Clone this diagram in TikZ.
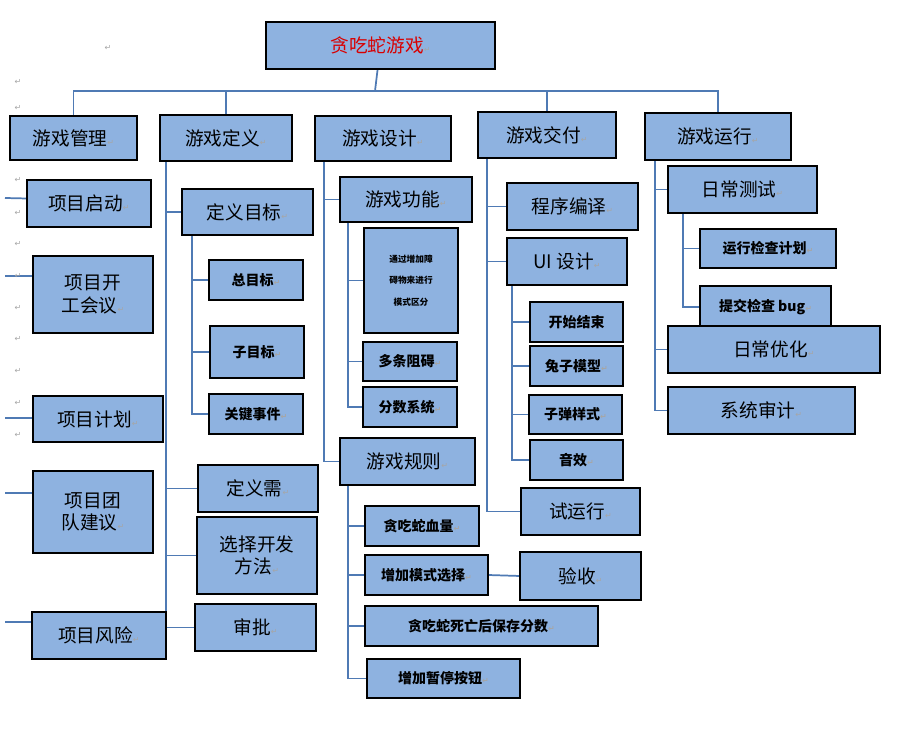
\documentclass[tikz,border=0pt]{standalone}
\usepackage{fontspec}
\usetikzlibrary{backgrounds}
\setmainfont{Noto Sans CJK SC}
\newfontfamily\djv{DejaVu Sans}
\definecolor{bfill}{RGB}{142,178,224}
\definecolor{lcol}{RGB}{79,122,180}
\newcommand\retm{{\djv\color{gray!70}\fontsize{6}{6}\selectfont ↵}}
\newcommand\bx[7][]{%
 \pgfmathsetmacro\bw{(#5-#3)*0.75}\pgfmathsetmacro\bh{(#6-#4)*0.75}%
 \node[box,#1,minimum width=\bw pt,minimum height=\bh pt] (#2) at ({(#3+#5)/2},{(#4+#6)/2}) {#7};}
\tikzset{
 box/.style={draw=black,line width=1.1pt,fill=bfill,inner sep=1pt,outer sep=0pt,align=center,font=\fontsize{14}{17}\selectfont},
 mid/.style={font=\bfseries\fontsize{10.5}{13}\selectfont},
 tiny/.style={font=\bfseries\fontsize{6.5}{16}\selectfont},
 ln/.style={draw=lcol,line width=1.3pt},
 pm/.style={font=\djv\fontsize{6}{6}\selectfont,text=gray!70}
}
\begin{document}
\begin{tikzpicture}[x=0.75pt,y=-0.75pt]
\useasboundingbox (0,0) rectangle (922,737);
% root and level 1
\bx{root}{266}{22}{495}{69}{\textcolor{red!85!black}{贪吃蛇游戏}\retm}
\bx{gl}{10}{116}{137}{160}{游戏管理\retm}
\bx{gd}{160}{115}{292}{161}{游戏定义\retm}
\bx{gs}{315}{116}{451}{161}{游戏设计\retm}
\bx{gj}{478}{112}{616}{158}{游戏交付\retm}
\bx{gy}{645}{113}{791}{160}{游戏运行\retm}
% management
\bx{m1}{27}{180}{151}{227}{项目启动\retm}
\bx{m2}{33}{256}{153}{333}{项目开\\工会议\retm}
\bx{m3}{33}{396}{163}{442}{项目计划\retm}
\bx{m4}{33}{471}{153}{553}{项目团\\队建议\retm}
\bx{m5}{32}{612}{166}{659}{项目风险\retm}
% definition
\bx{d1}{182}{189}{313}{235}{定义目标\retm}
\bx[mid]{d11}{209}{260}{303}{300}{总目标\retm}
\bx[mid]{d12}{210}{326}{304}{378}{子目标\retm}
\bx[mid]{d13}{209}{394}{303}{434}{关键事件\retm}
\bx{d2}{198}{465}{318}{512}{定义需\retm}
\bx{d3}{197}{517}{317}{594}{选择开发\\方法\retm}
\bx{d4}{195}{604}{316}{651}{审批\retm}
% design
\bx{s1}{340}{177}{472}{222}{游戏功能\retm}
\bx[tiny]{s11}{364}{228}{458}{333}{通过增加障\\碍物来进行\\模式区分\hspace{2.2em}}
\bx[mid]{s12}{363}{342}{457}{381}{多条阻碍\retm}
\bx[mid]{s13}{363}{387}{457}{427}{分数系统\retm}
\bx{s2}{340}{438}{475}{485}{游戏规则\retm}
\bx[mid]{s21}{365}{506}{479}{546}{贪吃蛇血量\retm}
\bx[mid]{s22}{365}{555}{488}{595}{增加模式选择\retm}
\bx[mid]{s23}{365}{606}{598}{646}{贪吃蛇死亡后保存分数\retm}
\bx[mid]{s24}{367}{659}{520}{698}{增加暂停按钮\retm}
% delivery
\bx{j1}{507}{183}{638}{230}{程序编译\retm}
\bx{j2}{507}{238}{627}{285}{UI 设计\retm}
\bx[mid]{j21}{530}{302}{623}{342}{开始结束}
\bx[mid]{j22}{530}{346}{623}{386}{兔子模型\retm}
\bx[mid]{j23}{529}{395}{622}{434}{子弹样式\retm}
\bx[mid]{j24}{530}{440}{623}{480}{音效\retm}
\bx{j3}{521}{488}{640}{535}{试运行\retm}
\bx{j4}{520}{552}{641}{600}{验收\retm}
% operation
\bx{y1}{668}{166}{817}{213}{日常测试\retm}
\bx[mid]{y11}{700}{229}{836}{268}{运行检查计划\retm}
\bx[mid]{y12}{700}{286}{831}{328}{提交检查 bug\retm}
\bx{y2}{668}{326}{880}{373}{日常优化\retm}
\bx{y3}{668}{387}{855}{434}{系统审计\retm}
% paragraph marks
\foreach \p in {(108,48),(18,82),(18,108),(18,180),(18,213),(18,244),(18,276),(18,308),(18,339),(18,371),(18,403),(18,435)} \node[pm] at \p {↵};
\begin{scope}[on background layer]
\fill[white] (0,0) rectangle (922,737);
\coordinate (bus) at (375,91);
\draw[ln] (root) -- (bus);
\draw[ln] (gl.north) |- (bus) -| (gy.north);
\draw[ln] (bus) -| (gd.north);
\draw[ln] (bus) -| (gj.north);
\coordinate (lx) at (5,0);
\draw[ln] (m1.west) ++(0,-5) -- (lx |- 0,198);
\draw[ln] (lx |- 0,276) -- (m2.west |- 0,276);
\draw[ln] (lx |- 0,418) -- (m3.west |- 0,418);
\draw[ln] (lx |- 0,493) -- (m4.west |- 0,493);
\draw[ln] (lx |- 0,622) -- (m5.west |- 0,622);
\coordinate (dv) at (166,161);
\foreach \n in {d1,d2,d3,d4} \draw[ln] (dv) |- (\n.west);
\coordinate (dv1) at (192,235);
\foreach \n in {d11,d12,d13} \draw[ln] (dv1) |- (\n.west);
\coordinate (sv) at (324,161);
\foreach \n in {s1,s2} \draw[ln] (sv) |- (\n.west);
\coordinate (sv1) at (348,222);
\foreach \n in {s11,s12,s13} \draw[ln] (sv1) |- (\n.west);
\coordinate (sv2) at (348,485);
\foreach \n in {s21,s22,s23,s24} \draw[ln] (sv2) |- (\n.west);
\coordinate (jv) at (487,158);
\foreach \n in {j1,j2,j3} \draw[ln] (jv) |- (\n.west);
\coordinate (jv1) at (512,285);
\foreach \n in {j21,j22,j23,j24} \draw[ln] (jv1) |- (\n.west);
\draw[ln] (s22.east) -- (j4.west);
\coordinate (yv) at (655,160);
\foreach \n in {y1,y2,y3} \draw[ln] (yv) |- (\n.west);
\coordinate (yv1) at (683,213);
\foreach \n in {y11,y12} \draw[ln] (yv1) |- (\n.west);
\end{scope}
\end{tikzpicture}
\end{document}
